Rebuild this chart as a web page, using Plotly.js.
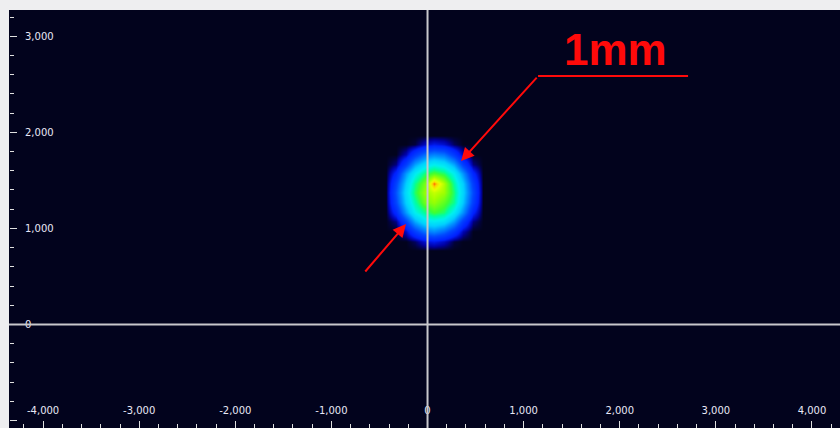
<!DOCTYPE html>
<html>
<head>
<meta charset="utf-8">
<script src="https://cdn.plot.ly/plotly-3.0.1.min.js"></script>
<style>html,body{margin:0;padding:0;background:#eeeef0;}#chart{width:840px;height:428px;}</style>
</head>
<body>
<div id="chart"></div>
<script>
// Beam grid (micrometres)
var beamX = [-530, -430, -330, -230, -130, -30, 70, 170, 270, 370, 470, 570, 670];
var beamY = [770, 870, 970, 1070, 1170, 1270, 1370, 1470, 1570, 1670, 1770, 1870, 1970];
// Intensity rows, bottom (y=770) to top (y=1970) (0-100)
var row0  = [0,0,0,0,0,0,0,0,0,0,0,0,0];
var row1  = [0,0,0,0,2,7,9,6,1,0,0,0,0];
var row2  = [0,0,0,6,19,30,34,28,17,5,0,0,0];
var row3  = [0,0,3,20,39,51,53,50,37,18,3,0,0];
var row4  = [0,0,13,37,55,64,70,66,53,35,11,0,0];
var row5  = [0,0,21,46,62,75,79,73,64,44,19,0,0];
var row6  = [0,0,24,49,67,79,84,80,66,47,22,0,0];
var row7  = [0,0,20,45,64,76,97,82,63,45,19,0,0];
var row8  = [0,0,12,37,54,66,72,67,55,36,12,0,0];
var row9  = [0,0,3,19,38,50,55,51,39,19,3,0,0];
var row10 = [0,0,0,5,18,29,33,30,18,5,0,0,0];
var row11 = [0,0,0,0,1,6,9,7,2,0,0,0,0];
var row12 = [0,0,0,0,0,0,0,0,0,0,0,0,0];
var beamZ = [row0,row1,row2,row3,row4,row5,row6,row7,row8,row9,row10,row11,row12];

var xTickVals = [-4000, -3000, -2000, -1000, 0, 1000, 2000, 3000, 4000];
var xTickText = ['-4,000', '-3,000', '-2,000', '-1,000', '0', '1,000', '2,000', '3,000', '4,000'];
var yTickVals = [-1000, 0, 1000, 2000, 3000];
var yTickText = ['', '0', '1,000', '2,000', '3,000'];

var bg = '#02031d';
var trace = {
  type: 'heatmap',
  x: beamX, y: beamY, z: beamZ,
  zmin: 0, zmax: 100,
  zsmooth: 'best',
  showscale: false,
  hoverinfo: 'skip',
  colorscale: [
    [0, bg], [0.04, '#0000a0'], [0.10, '#0020ff'], [0.22, '#0048ff'],
    [0.35, '#0090ff'], [0.45, '#00d0ff'], [0.55, '#00f0f0'], [0.63, '#00ffa0'],
    [0.70, '#40ff30'], [0.80, '#a0ff00'], [0.88, '#e8ff00'], [0.93, '#ffd000'],
    [0.97, '#ff6000'], [1, '#ff0000']
  ]
};

var tickFont = {family: 'DejaVu Sans', size: 10, color: '#e8e8f6'};
var red = '#ff0a0a';
var layout = {
  width: 840, height: 428,
  margin: {l: 9, r: 0, t: 10, b: 0, pad: 0},
  paper_bgcolor: '#eeeef0',
  plot_bgcolor: bg,
  showlegend: false,
  xaxis: {
    range: [-4355, 4292],
    side: 'top', anchor: 'free', position: 0,
    showgrid: false, zeroline: false, showline: false,
    tickmode: 'array', tickvals: xTickVals, ticktext: xTickText,
    ticks: 'outside', ticklen: 7, tickwidth: 1, tickcolor: '#e0e0e0',
    ticklabelstandoff: 3, tickfont: tickFont,
    minor: {dtick: 200, ticks: 'outside', ticklen: 4, tickcolor: '#e0e0e0', showgrid: false}
  },
  yaxis: {
    range: [-1077, 3273],
    side: 'right', anchor: 'free', position: 0,
    showgrid: false, zeroline: false, showline: false,
    tickmode: 'array', tickvals: yTickVals, ticktext: yTickText,
    ticks: 'outside', ticklen: 7, tickwidth: 1, tickcolor: '#e0e0e0',
    ticklabelstandoff: 6, tickfont: tickFont,
    minor: {dtick: 200, ticks: 'outside', ticklen: 4, tickcolor: '#e0e0e0', showgrid: false}
  },
  shapes: [
    {type: 'line', xref: 'x', yref: 'paper', x0: 0, x1: 0, y0: 0, y1: 1, layer: 'above',
     line: {color: '#c8c8cc', width: 2}},
    {type: 'line', xref: 'paper', yref: 'y', x0: 0, x1: 1, y0: 0, y1: 0, layer: 'above',
     line: {color: '#c8c8cc', width: 2}},
    {type: 'line', xref: 'x', yref: 'y', x0: 1150, x1: 2711, y0: 2586, y1: 2586, layer: 'above',
     line: {color: red, width: 2}}
  ],
  annotations: [
    {x: 1951, y: 2867, xref: 'x', yref: 'y', text: '<b>1mm</b>', showarrow: false,
     font: {family: 'Liberation Sans', size: 44, color: red}},
    {x: 349, y: 1701, xref: 'x', yref: 'y', text: '', showarrow: true,
     ax: 77, ay: -85, axref: 'pixel', ayref: 'pixel',
     arrowhead: 2, arrowsize: 1.3, arrowwidth: 2, arrowcolor: red},
    {x: -224, y: 1046, xref: 'x', yref: 'y', text: '', showarrow: true,
     ax: -42, ay: 49, axref: 'pixel', ayref: 'pixel',
     arrowhead: 2, arrowsize: 1.3, arrowwidth: 2, arrowcolor: red}
  ]
};

Plotly.newPlot('chart', [trace], layout, {displayModeBar: false, staticPlot: true});
</script>
</body>
</html>
